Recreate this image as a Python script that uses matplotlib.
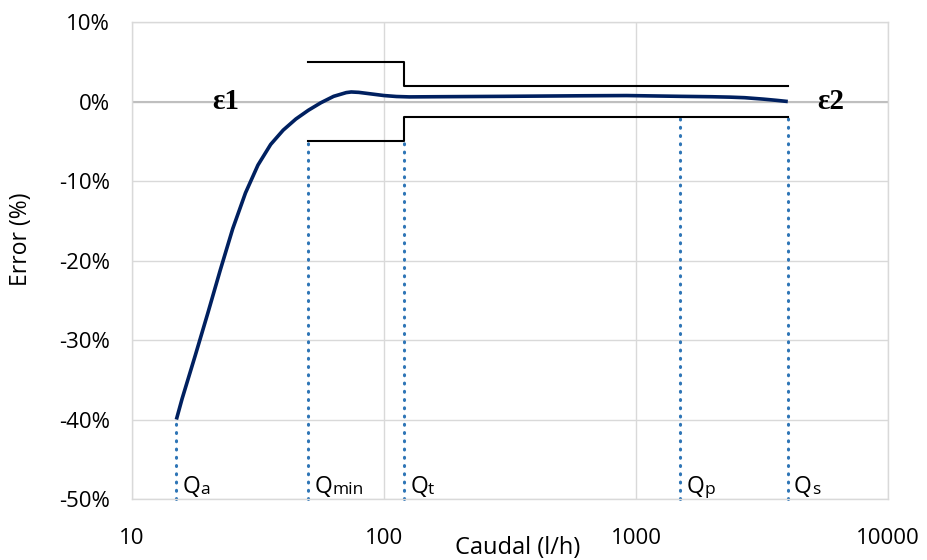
import numpy as np
import matplotlib.pyplot as plt

# curva de error del contador
caudal = [15, 15.8, 17.8, 20.0, 22.4, 25.1, 28.2, 31.6, 35.5, 39.8, 44.7, 50.1, 56.2, 63.1,
          70.8, 74.1, 79.4, 89.1, 100, 112, 126, 158, 300, 600, 918, 1500, 2000, 2360,
          2700, 3200, 3600, 4000]
error = [-40, -37.4, -32.0, -26.6, -21.2, -16.0, -11.5, -8.0, -5.4, -3.6, -2.2, -1.1, -0.15, 0.65,
         1.12, 1.2, 1.15, 0.95, 0.75, 0.63, 0.58, 0.6, 0.65, 0.72, 0.75, 0.65, 0.6, 0.55,
         0.48, 0.3, 0.15, 0.0]

# limites de error maximo permitido
lim_x = [50, 120, 120, 4000]
lim_sup = [5, 5, 2, 2]
lim_inf = [-5, -5, -2, -2]

# caudales caracteristicos
q_val = [15, 50, 120, 1500, 4000]
q_top = [-40, -5, -5, -2, -2]
q_suf = ['a', 'min', 't', 'p', 's']

yticks = [10, 0, -10, -20, -30, -40, -50]
xticks = [10, 100, 1000, 10000]

plt.rcParams['font.family'] = ['Open Sans', 'DejaVu Sans']

fig = plt.figure(figsize=(9.27, 5.6), dpi=100)
ax = fig.add_axes([0.1424, 0.1089, 0.8156, 0.8518])

ax.set_xscale('log')
ax.set_xlim(10, 10000)
ax.set_ylim(-50, 10)

ax.set_xticks(xticks)
ax.set_xticklabels([str(v) for v in xticks])
ax.minorticks_off()
ax.set_yticks(yticks)
ax.set_yticklabels([f'{v}%' for v in yticks])
ax.tick_params(length=0, labelsize=16, colors='#000000')
ax.tick_params(axis='y', pad=16)
ax.tick_params(axis='x', pad=21)

ax.grid(True, color='#D9D9D9', lw=1)
ax.set_axisbelow(True)
for s in ax.spines.values():
    s.set_color('#D9D9D9')
    s.set_linewidth(1)
ax.axhline(0, color='#BFBFBF', lw=1.5, zorder=1)

# lineas punteadas
for x, t in zip(q_val, q_top):
    ax.plot([x, x], [-50, t], color='#2E75B6', lw=2.2, linestyle=(0, (0.3, 2.4)),
            dash_capstyle='round', zorder=2, clip_on=False)

ax.plot(lim_x, lim_sup, color='black', lw=1.5, zorder=3)
ax.plot(lim_x, lim_inf, color='black', lw=1.5, zorder=3)
ax.plot(caudal, error, color='#002060', lw=2.6, zorder=4, solid_capstyle='butt',
        solid_joinstyle='round')

for x, suf in zip(q_val, q_suf):
    t = ax.annotate('Q', xy=(x, -50), xytext=(4.5, 4), textcoords='offset points',
                    fontsize=16.5, va='baseline', ha='left', zorder=5)
    ax.annotate(suf, xy=(1, 0), xycoords=t, fontsize=12.5, va='bottom', ha='left',
                xytext=(0, 1.2), textcoords='offset points')

ax.text(23.5, 0, 'ε1', fontsize=21, fontweight='bold', family='Liberation Serif',
        ha='center', va='center', zorder=5)
ax.text(5900, 0, 'ε2', fontsize=21, fontweight='bold', family='Liberation Serif',
        ha='center', va='center', zorder=5)

ax.set_xlabel('Caudal (l/h)', fontsize=17)
ax.xaxis.set_label_coords(0.51, -0.077)
ax.set_ylabel('Error (%)', fontsize=16.5)
ax.yaxis.set_label_coords(-0.131, 0.545)

fig.savefig('out.png', dpi=100)
